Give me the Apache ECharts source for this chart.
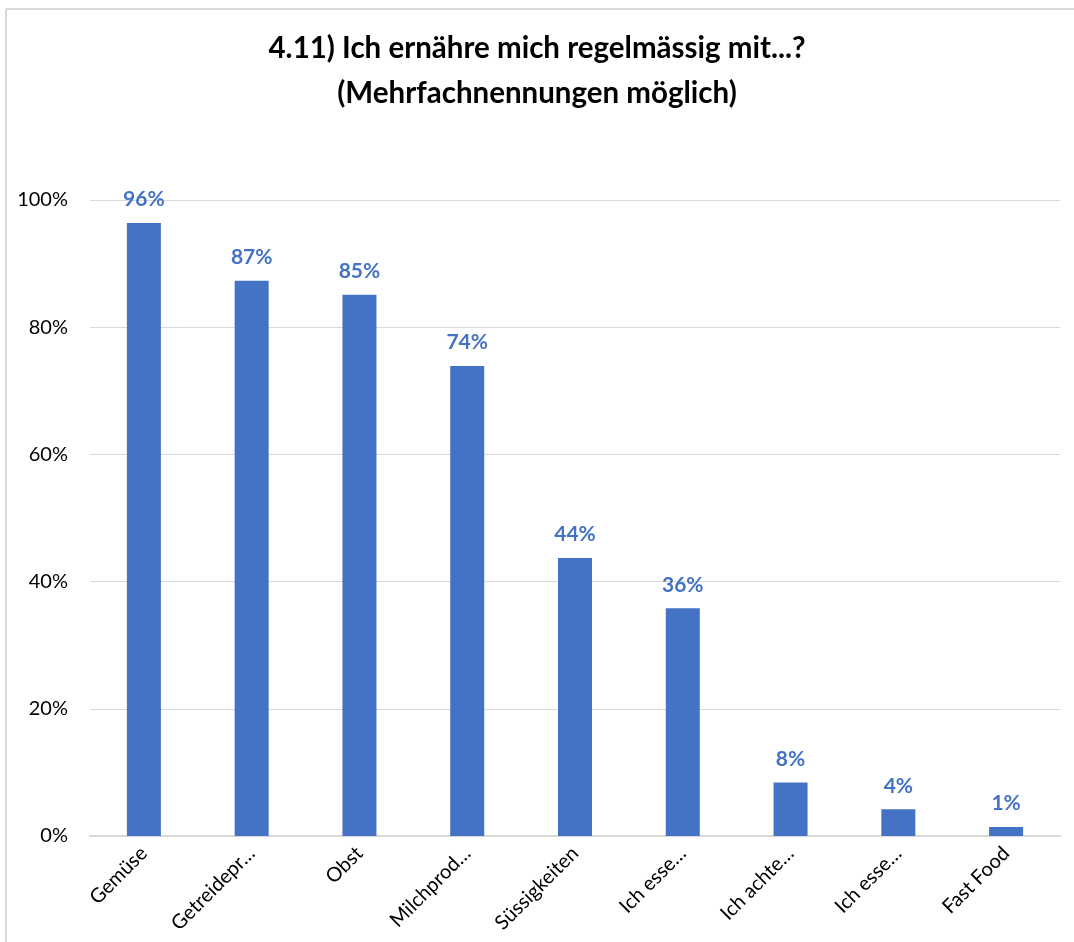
<!DOCTYPE html>
<html>
<head>
<meta charset="utf-8">
<script src="https://cdn.jsdelivr.net/npm/echarts@6/dist/echarts.min.js"></script>
<style>
  html, body { margin: 0; padding: 0; background: #ffffff; }
  #chart { width: 1074px; height: 942px; }
</style>
</head>
<body>
<div id="chart"></div>
<script>
// Categories as shown on the axis (long names are shortened with an ellipsis)
const categories = [
  'Gemüse', 'Getreidepr…', 'Obst', 'Milchprod…', 'Süssigkeiten',
  'Ich esse…', 'Ich achte…', 'Ich esse…', 'Fast Food'
];
// Share of respondents (fraction of 1)
const shares = [0.964, 0.873, 0.851, 0.739, 0.437, 0.358, 0.084, 0.042, 0.014];
// Value axis ticks
const yTicks = [0, 0.2, 0.4, 0.6, 0.8, 1.0];

const titleLines = ['4.11) Ich ernähre mich regelmässig mit...?', '(Mehrfachnennungen möglich)'];

const blue = '#4472C4';
const gridGrey = '#d9d9d9';
const font = 'Lato, "Open Sans", sans-serif';

const chart = echarts.init(document.getElementById('chart'), null, { renderer: 'canvas' });

chart.setOption({
  backgroundColor: '#ffffff',
  animation: false,
  title: {
    text: titleLines.join('\n'),
    left: 'center',
    top: 21,
    textStyle: {
      fontFamily: font,
      fontWeight: 'bold',
      fontSize: 29.5,
      lineHeight: 45,
      color: '#000000'
    }
  },
  graphic: [
    { type: 'line', shape: { x1: 6, y1: 9, x2: 1074, y2: 9 }, style: { stroke: gridGrey, lineWidth: 2 } },
    { type: 'line', shape: { x1: 6, y1: 9, x2: 6, y2: 942 }, style: { stroke: gridGrey, lineWidth: 2 } }
  ],
  grid: { left: 90, right: 14, top: 200, bottom: 106, containLabel: false },
  xAxis: {
    type: 'category',
    data: categories,
    axisLine: { show: true, lineStyle: { color: gridGrey, width: 2 } },
    axisTick: { show: false },
    axisLabel: {
      interval: 0,
      rotate: 45,
      margin: 14,
      fontFamily: font,
      fontSize: 20,
      color: '#000000'
    }
  },
  yAxis: {
    type: 'value',
    min: yTicks[0],
    max: yTicks[yTicks.length - 1],
    interval: yTicks[1] - yTicks[0],
    axisLine: { show: false },
    axisTick: { show: false },
    splitLine: { lineStyle: { color: gridGrey, width: 1 } },
    axisLabel: {
      margin: 22,
      fontFamily: font,
      fontSize: 20,
      color: '#000000',
      formatter: v => Math.round(v * 100) + '%'
    }
  },
  series: [{
    type: 'bar',
    data: shares,
    barWidth: 34,
    itemStyle: { color: blue },
    label: {
      show: true,
      position: 'top',
      distance: 13,
      fontFamily: font,
      fontWeight: 'bold',
      fontSize: 21,
      color: blue,
      formatter: p => Math.round(p.value * 100) + '%'
    }
  }]
});
</script>
</body>
</html>
